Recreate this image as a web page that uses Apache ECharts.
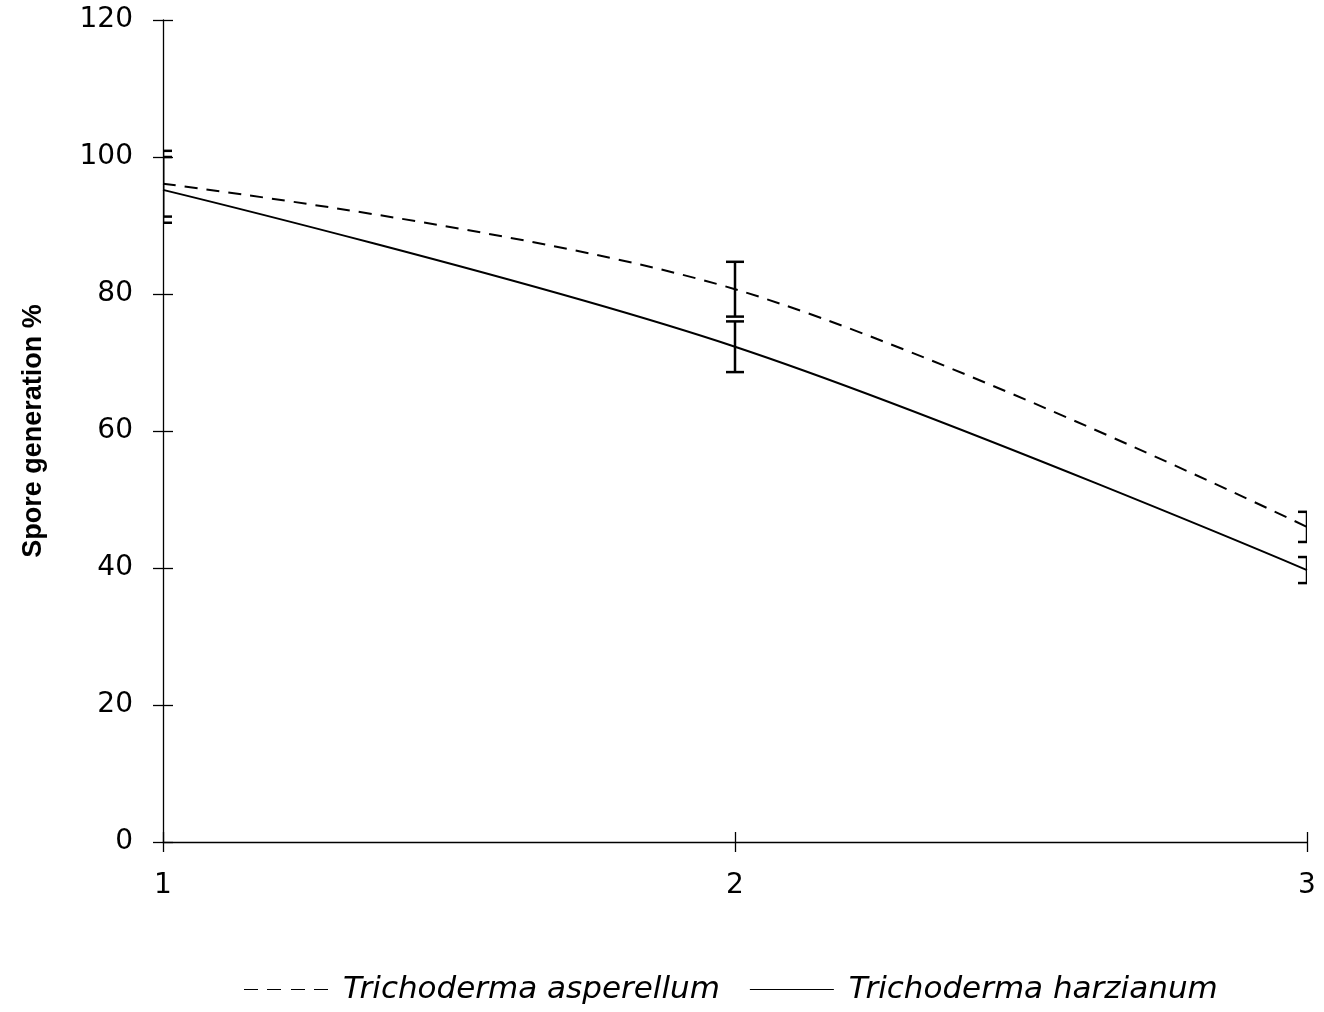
<!DOCTYPE html>
<html><head><meta charset="utf-8">
<script src="https://cdn.jsdelivr.net/npm/echarts@6/dist/echarts.min.js"></script>
<style>html,body{margin:0;padding:0;background:#fff}#c{width:1324px;height:1012px}</style>
</head><body><div id="c"></div>
<script>
const xValues = [1, 2, 3];
const asperellum = [96.1, 80.7, 46.0];
const asperellumErr = [4.8, 4.0, 2.2];
const harzianum = [95.2, 72.3, 39.7];
const harzianumErr = [4.8, 3.7, 1.9];
const seriesNames = ['Trichoderma asperellum', 'Trichoderma harzianum'];
const yTicks = [0, 20, 40, 60, 80, 100, 120];

const chart = echarts.init(document.getElementById('c'), null, {renderer: 'canvas'});
const font = 'DejaVu Sans, sans-serif';
const boldFont = 'Liberation Sans, Arial, sans-serif';

function errData(vals, errs) {
  return xValues.map((x, i) => [x, vals[i] - errs[i], vals[i] + errs[i]]);
}
function errRender(params, api) {
  const x = api.value(0);
  const lo = api.coord([x, api.value(1)]);
  const hi = api.coord([x, api.value(2)]);
  const w = 9;
  const style = {stroke: '#000', lineWidth: 2.5, fill: null};
  return {
    type: 'group',
    children: [
      {type: 'line', shape: {x1: lo[0], y1: lo[1], x2: hi[0], y2: hi[1]}, style},
      {type: 'line', shape: {x1: lo[0] - w, y1: lo[1], x2: lo[0] + w, y2: lo[1]}, style},
      {type: 'line', shape: {x1: hi[0] - w, y1: hi[1], x2: hi[0] + w, y2: hi[1]}, style}
    ]
  };
}

const dashIcon = 'path://M0,0h14v1h-14z M23,0h14v1h-14z M47,0h14v1h-14z M70,0h14v1h-14z';
const solidIcon = 'path://M0,0h84v1h-84z';

const axisCommon = {type: 'value', min: 1, max: 3, interval: 1};

chart.setOption({
  animation: false,
  backgroundColor: '#fff',
  grid: {left: 163, right: 17, top: 20, bottom: 170, containLabel: false},
  legend: {
    bottom: 2, left: 239,
    itemWidth: 84, itemHeight: 2.5, itemGap: 30,
    data: [
      {name: seriesNames[0], icon: dashIcon},
      {name: seriesNames[1], icon: solidIcon}
    ],
    itemStyle: {color: '#000', borderWidth: 0},
    textStyle: {fontFamily: font, fontSize: 31, fontStyle: 'italic', color: '#000', padding: [0, 0, 0, 10]}
  },
  xAxis: [
    Object.assign({}, axisCommon, {
      axisLine: {show: true, onZero: false, lineStyle: {color: '#000', width: 1.3}},
      axisTick: {show: true, length: 10, lineStyle: {color: '#000', width: 1.3}},
      axisLabel: {margin: 30, fontFamily: font, fontSize: 28, color: '#000'},
      splitLine: {show: false}
    }),
    Object.assign({}, axisCommon, {
      position: 'bottom',
      axisLine: {show: false, onZero: false},
      axisTick: {show: true, inside: true, length: 10, lineStyle: {color: '#000', width: 1.3}},
      axisLabel: {show: false},
      splitLine: {show: false}
    })
  ],
  yAxis: [
    {
      type: 'value', min: 0, max: 120, interval: 20,
      name: 'Spore generation %', nameLocation: 'middle', nameGap: 116,
      nameTextStyle: {fontFamily: boldFont, fontSize: 27, fontWeight: 'bold', color: '#000'},
      axisLine: {show: true, lineStyle: {color: '#000', width: 1.3}},
      axisTick: {show: true, length: 10, lineStyle: {color: '#000', width: 1.3}},
      axisLabel: {margin: 30, fontFamily: font, fontSize: 28, color: '#000', padding: [4, 0, 0, 0],
        formatter: v => yTicks.includes(v) ? String(v) : ''},
      splitLine: {show: false}
    },
    {
      type: 'value', min: 0, max: 120, interval: 20, position: 'left',
      axisLine: {show: false},
      axisTick: {show: true, inside: true, length: 10, lineStyle: {color: '#000', width: 1.3}},
      axisLabel: {show: false},
      splitLine: {show: false}
    }
  ],
  series: [
    {
      name: seriesNames[0], type: 'line', smooth: 0.35, symbol: 'none',
      data: xValues.map((x, i) => [x, asperellum[i]]),
      lineStyle: {color: '#000', width: 2, type: [13, 9]},
      itemStyle: {color: '#000'}
    },
    {
      name: seriesNames[1], type: 'line', smooth: 0.35, symbol: 'none',
      data: xValues.map((x, i) => [x, harzianum[i]]),
      lineStyle: {color: '#000', width: 2, type: 'solid'},
      itemStyle: {color: '#000'}
    },
    {
      type: 'custom', clip: true, renderItem: errRender,
      data: errData(asperellum, asperellumErr), encode: {x: 0, y: [1, 2]}, z: 5
    },
    {
      type: 'custom', clip: true, renderItem: errRender,
      data: errData(harzianum, harzianumErr), encode: {x: 0, y: [1, 2]}, z: 5
    }
  ]
});
</script>
</body></html>
